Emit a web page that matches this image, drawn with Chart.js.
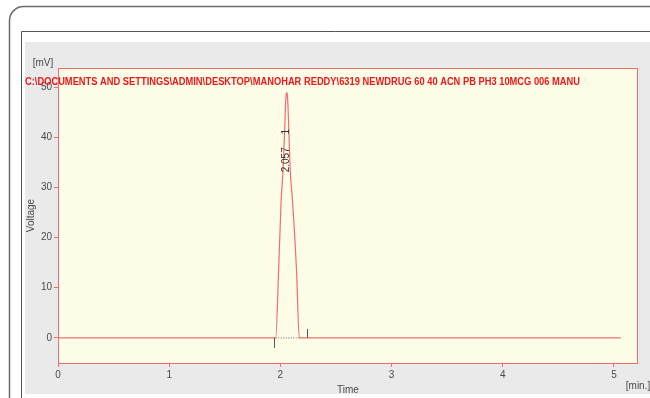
<!DOCTYPE html>
<html>
<head>
<meta charset="utf-8">
<script src="https://cdn.jsdelivr.net/npm/chart.js@4"></script>
<style>
  html, body { margin: 0; padding: 0; background: #fff; }
  #wrap { width: 650px; height: 398px; position: relative; }
</style>
</head>
<body>
<div id="wrap"><canvas id="chromatogram" width="650" height="398"></canvas></div>
<script>
// chromatogram trace
const timeMin = [0, 1.958, 1.984, 2.006, 2.024, 2.036, 2.046, 2.051, 2.057, 2.063, 2.068, 2.078, 2.088, 2.110, 2.145, 2.170, 5.06];
const voltageMv = [0, 0, 13.5, 27, 33.5, 40, 46.4, 48.3, 48.9, 48.3, 46.4, 40, 33.5, 27, 13.5, 0, 0];

// integrated peak
const peakTime = [2.057];
const peakName = ["1"];
const peakStart = [1.942];
const peakEnd = [2.242];
const peakBaseX = [1.958, 2.170];
const peakBaseY = [0, 0];

const xTicks = [0, 1, 2, 3, 4, 5];
const yTicks = [0, 10, 20, 30, 40, 50];

const fileTitle = "C:\\DOCUMENTS AND SETTINGS\\ADMIN\\DESKTOP\\MANOHAR REDDY\\6319 NEWDRUG 60 40 ACN PB PH3 10MCG 006 MANU";

const RED = "rgb(240,110,110)";
const TXT = "#4a4a4a";
const FONT = "'Liberation Sans', Arial, sans-serif";

const frame = {
    id: "frame",
    beforeDraw(chart) {
        const c = chart.ctx;
        const a = chart.chartArea;
        c.save();
        c.fillStyle = "#fff";
        c.fillRect(0, 0, chart.width, chart.height);
        // outer card
        c.strokeStyle = "#6a6a6a";
        c.lineWidth = 1.5;
        c.beginPath();
        c.roundRect(9.5, 6.5, 700, 450, 14);
        c.stroke();
        // inner frame
        c.strokeStyle = "#555";
        c.lineWidth = 1;
        c.beginPath();
        c.moveTo(21.5, 398);
        c.lineTo(21.5, 31.5);
        c.lineTo(650, 31.5);
        c.stroke();
        // grey panel
        c.fillStyle = "rgb(234,234,234)";
        c.fillRect(25, 42, 625, 352);
        // plot background
        c.fillStyle = "rgb(253,253,232)";
        c.fillRect(a.left, a.top, a.right - a.left, a.bottom - a.top);
        c.restore();
    },
    afterDraw(chart) {
        const c = chart.ctx;
        const a = chart.chartArea;
        const xs = chart.scales.x;
        const ys = chart.scales.y;
        c.save();
        c.strokeStyle = RED;
        c.lineWidth = 1;
        c.strokeRect(a.left + 0.5, a.top + 0.5, a.right - a.left - 1, a.bottom - a.top);

        // peak markers
        c.strokeStyle = "#555";
        const y0 = ys.getPixelForValue(0);
        peakStart.forEach(t => {
            const px = Math.round(xs.getPixelForValue(t)) + 0.5;
            c.beginPath(); c.moveTo(px, y0); c.lineTo(px, y0 + 10); c.stroke();
        });
        peakEnd.forEach(t => {
            const px = Math.round(xs.getPixelForValue(t)) + 0.5;
            c.beginPath(); c.moveTo(px, y0); c.lineTo(px, y0 - 9); c.stroke();
        });

        // peak labels
        c.fillStyle = "#333";
        c.font = "10px " + FONT;
        c.textAlign = "center";
        c.textBaseline = "middle";
        peakTime.forEach((t, i) => {
            const px = xs.getPixelForValue(t) - 0.5;
            c.save();
            c.translate(px, ys.getPixelForValue(35.5));
            c.rotate(-Math.PI / 2);
            c.fillText(t.toFixed(3), 0, 0);
            c.restore();
            c.save();
            c.translate(px, ys.getPixelForValue(41.1));
            c.rotate(-Math.PI / 2);
            c.fillText(peakName[i], 0, 0);
            c.restore();
        });

        // units
        c.fillStyle = TXT;
        c.fillText("[mV]", 43, 63);
        c.fillText("[min.]", 638, 386);

        // file name title
        c.fillStyle = "rgb(235,25,25)";
        c.font = "bold 10px " + FONT;
        c.textAlign = "left";
        c.fillText(fileTitle, 25, 82, 555);
        c.restore();
    }
};

new Chart(document.getElementById("chromatogram"), {
    type: "scatter",
    data: {
        datasets: [{
            data: timeMin.map((t, i) => ({x: t, y: voltageMv[i]})),
            showLine: true,
            borderColor: RED,
            borderWidth: 1.2,
            pointRadius: 0,
            cubicInterpolationMode: "monotone",
        }, {
            data: peakBaseX.map((t, i) => ({x: t, y: peakBaseY[i]})),
            showLine: true,
            borderColor: "#666",
            borderWidth: 1,
            borderDash: [1, 1.5],
            pointRadius: 0,
        }],
    },
    options: {
        responsive: false,
        animation: false,
        events: [],
        layout: {padding: {left: 0, top: 68, right: 12, bottom: 0}},
        plugins: {legend: {display: false}, tooltip: {enabled: false}},
        scales: {
            x: {
                type: "linear",
                min: 0,
                max: 5.216,
                afterFit: s => { s.height = 35; },
                afterBuildTicks: s => { s.ticks = xTicks.map(v => ({value: v})); },
                grid: {drawOnChartArea: false, drawTicks: true, tickLength: 4, color: RED},
                border: {display: false},
                ticks: {color: TXT, font: {size: 10, family: FONT}, padding: 2, maxRotation: 0},
                title: {display: true, text: "Time", color: TXT, font: {size: 10, family: FONT}, padding: {top: 0, bottom: 2}},
            },
            y: {
                type: "linear",
                min: -5,
                max: 53.8,
                afterFit: s => { s.width = 58; },
                afterBuildTicks: s => { s.ticks = yTicks.map(v => ({value: v})); },
                grid: {drawOnChartArea: false, drawTicks: true, tickLength: 4, color: RED},
                border: {display: false},
                ticks: {color: TXT, font: {size: 10, family: FONT}, padding: 2},
                title: {display: true, text: "Voltage", color: TXT, font: {size: 10, family: FONT}, padding: {top: 25, bottom: 0}},
            },
        },
    },
    plugins: [frame],
});
</script>
</body>
</html>
